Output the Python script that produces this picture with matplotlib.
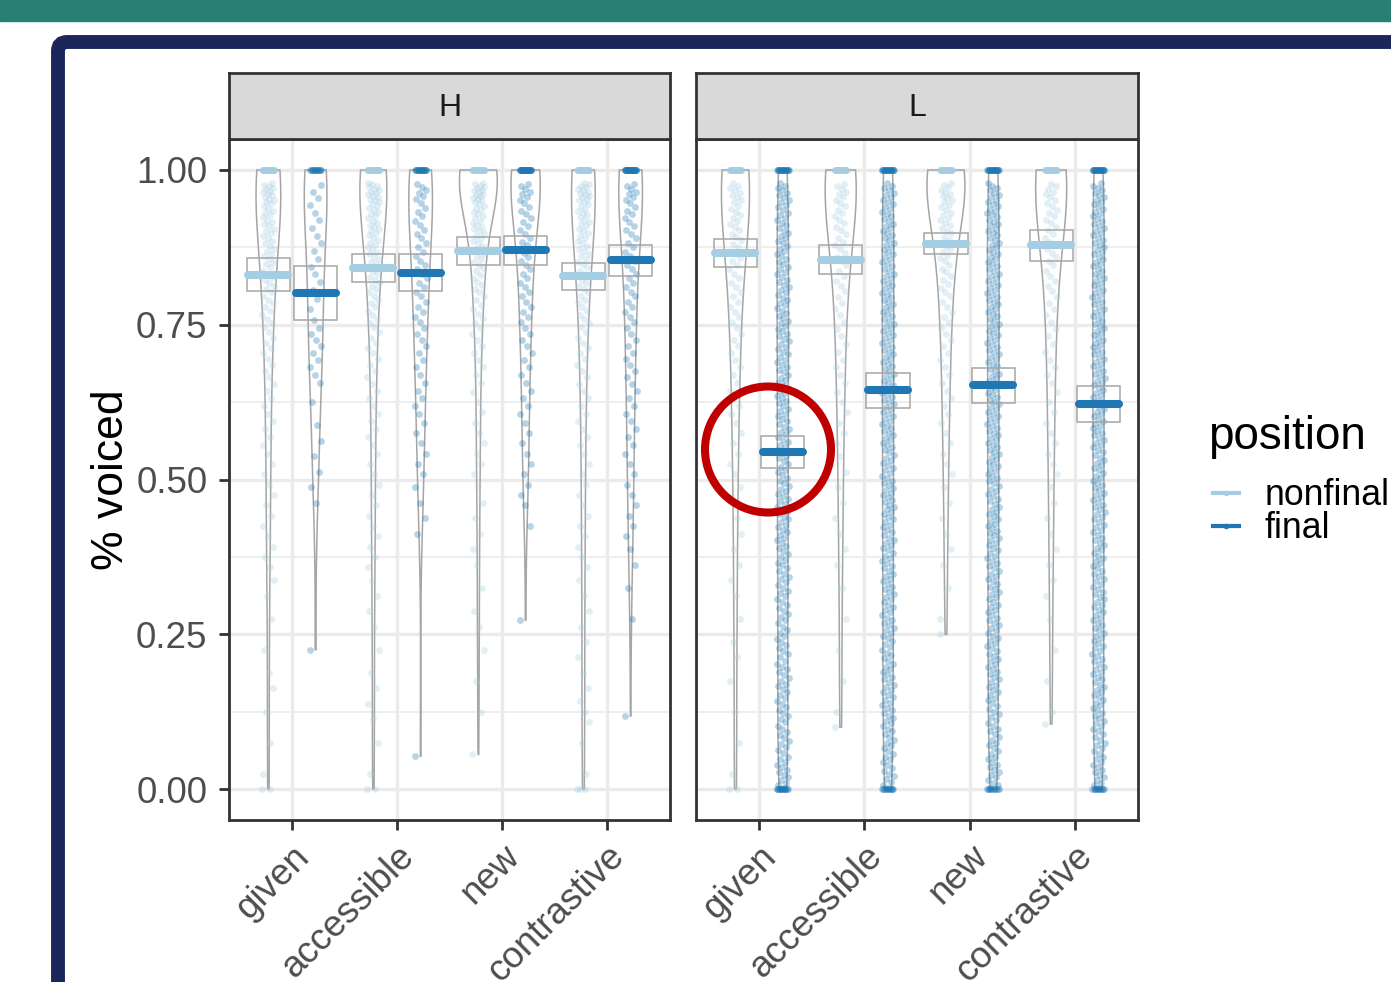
import numpy as np
import matplotlib
matplotlib.use("Agg")
import matplotlib.pyplot as plt
from matplotlib.lines import Line2D
from matplotlib.patches import Circle, FancyBboxPatch, Rectangle, Polygon

plt.rcParams['font.family'] = ['Liberation Sans', 'DejaVu Sans']

categories = ["given", "accessible", "new", "contrastive"]
panels = ["H", "L"]
positions = ["nonfinal", "final"]
colors = {"nonfinal": "#a6cee3", "final": "#1f78b4"}

# value bins for the voiced share, 0.05 wide; the top bin stops short of 1
bin_lo = np.round(np.arange(0, 0.951, 0.05), 3)
bin_hi = np.append(bin_lo[1:], 0.98)

# token counts per bin (low -> high), one row per category
h_nonfinal_counts = [
    [1, 1, 1, 2, 1, 1, 2, 3, 3, 3, 3, 4, 4, 5, 6, 8, 10, 12, 14, 12],
    [1, 1, 2, 2, 1, 2, 2, 3, 3, 3, 3, 4, 4, 5, 6, 8, 10, 13, 15, 13],
    [0, 0, 1, 1, 1, 2, 1, 2, 2, 2, 3, 3, 3, 4, 5, 7, 9, 12, 15, 14],
    [1, 1, 3, 2, 2, 2, 2, 3, 3, 3, 3, 4, 4, 5, 6, 8, 10, 12, 14, 13],
]
h_nonfinal_at_one = [45, 55, 60, 50]
h_nonfinal_at_zero = [1, 1, 0, 2]
h_nonfinal_min = [0.0, 0.0, 0.056, 0.0]

h_final_counts = [
    [0, 0, 0, 0, 0, 0, 0, 0, 0, 2, 2, 2, 1, 4, 5, 3, 4, 4, 4, 3],
    [0, 0, 0, 0, 0, 0, 0, 0, 2, 2, 3, 3, 4, 4, 5, 6, 7, 7, 7, 6],
    [0, 0, 0, 0, 0, 0, 0, 0, 1, 3, 3, 3, 4, 4, 5, 6, 7, 8, 8, 7],
    [0, 0, 0, 0, 0, 1, 1, 2, 3, 3, 3, 4, 4, 5, 5, 6, 7, 7, 8, 7],
]
h_final_at_one = [16, 22, 36, 34]
h_final_at_zero = [0, 0, 0, 0]
h_final_min = [0.225, 0.053, 0.273, 0.118]

l_nonfinal_counts = [
    [1, 1, 1, 1, 2, 1, 2, 2, 2, 2, 3, 3, 4, 4, 5, 6, 7, 9, 10, 8],
    [0, 0, 1, 1, 1, 1, 1, 2, 2, 2, 2, 3, 3, 4, 4, 5, 6, 8, 9, 7],
    [0, 0, 0, 0, 0, 1, 1, 2, 2, 2, 3, 3, 4, 4, 5, 6, 8, 10, 12, 9],
    [0, 0, 1, 1, 1, 1, 2, 2, 2, 2, 3, 3, 3, 4, 4, 5, 6, 8, 9, 7],
]
l_nonfinal_at_one = [42, 38, 46, 42]
l_nonfinal_at_zero = [1, 0, 0, 0]
l_nonfinal_min = [0.0, 0.10, 0.25, 0.105]

l_final_counts = [
    [12, 10, 10, 11, 10, 10, 11, 11, 12, 12, 11, 12, 12, 12, 12, 12, 12, 12, 12, 8],
    [11, 11, 12, 12, 11, 12, 12, 12, 12, 13, 12, 13, 13, 13, 13, 13, 13, 13, 13, 8],
    [12, 11, 11, 12, 12, 12, 12, 12, 13, 12, 13, 13, 13, 13, 13, 13, 13, 13, 14, 8],
    [12, 11, 12, 12, 12, 12, 12, 12, 12, 13, 12, 13, 13, 13, 13, 13, 13, 13, 13, 8],
]
l_final_at_one = [22, 25, 25, 25]
l_final_at_zero = [15, 12, 10, 12]
l_final_min = [0.0, 0.0, 0.0, 0.0]

# mean and standard error per category
h_nonfinal_mean = [0.831, 0.842, 0.869, 0.828]
h_nonfinal_se = [0.027, 0.023, 0.023, 0.0215]
h_final_mean = [0.801, 0.834, 0.870, 0.854]
h_final_se = [0.044, 0.0295, 0.0236, 0.025]
l_nonfinal_mean = [0.866, 0.855, 0.881, 0.878]
l_nonfinal_se = [0.023, 0.023, 0.017, 0.025]
l_final_mean = [0.544, 0.644, 0.652, 0.622]
l_final_se = [0.026, 0.028, 0.028, 0.029]

data = {
    ("H", "nonfinal"): (h_nonfinal_counts, h_nonfinal_at_one, h_nonfinal_at_zero,
                        h_nonfinal_min, h_nonfinal_mean, h_nonfinal_se),
    ("H", "final"): (h_final_counts, h_final_at_one, h_final_at_zero,
                     h_final_min, h_final_mean, h_final_se),
    ("L", "nonfinal"): (l_nonfinal_counts, l_nonfinal_at_one, l_nonfinal_at_zero,
                        l_nonfinal_min, l_nonfinal_mean, l_nonfinal_se),
    ("L", "final"): (l_final_counts, l_final_at_one, l_final_at_zero,
                     l_final_min, l_final_mean, l_final_se),
}


def expand(counts, at_one, at_zero, vmin):
    vals = [vmin] + [0.0] * at_zero + [1.0] * at_one
    for lo, hi, c in zip(bin_lo, bin_hi, counts):
        if c:
            vals += list(lo + (np.arange(c) + 0.5) / c * (hi - lo))
    return np.array(vals)


def nrd0(x):
    sd = x.std(ddof=1)
    q75, q25 = np.percentile(x, [75, 25])
    lo = min(sd, (q75 - q25) / 1.34)
    if lo == 0:
        lo = sd if sd > 0 else 1.0
    return 0.9 * lo * len(x) ** -0.2


def kde(vals, adjust=1.2):
    grid = np.linspace(vals.min(), vals.max(), 400)
    bw = nrd0(vals) * adjust
    z = (grid[:, None] - vals[None, :]) / bw
    dens = np.exp(-0.5 * z ** 2).sum(1) / (len(vals) * bw * np.sqrt(2 * np.pi))
    return grid, dens


W, H = 1391, 982
fig = plt.figure(figsize=(W / 100, H / 100), dpi=100)


def px_axes(left, top, right, bottom):
    return fig.add_axes([left / W, 1 - bottom / H, (right - left) / W, (bottom - top) / H])


# slide decoration
fig.add_artist(Rectangle((0, (H - 21) / 100), W / 100, 0.25, color="#2a7f73",
                         transform=fig.dpi_scale_trans, zorder=0))
fig.add_artist(FancyBboxPatch((0.58, -1.0), 20, (H - 42) / 100 + 1.0,
                              boxstyle="round,pad=0,rounding_size=0.09",
                              fc="none", ec="#1b2759", lw=10,
                              transform=fig.dpi_scale_trans, zorder=0))

grid_col = "#ebebeb"
frame_col = "#333333"
gray = "#a5a5a5"
dodge = 0.225
jit = 0.058
vmax_half = 0.18

panel_px = {"H": (229, 670), "L": (696, 1138)}
axes = {}
for p in panels:
    left, right = panel_px[p]
    ax = px_axes(left, 139, right, 820)
    axes[p] = ax
    ax.set_xlim(0.4, 4.6)
    ax.set_ylim(-0.05, 1.05)
    ax.set_xticks(range(1, 5))
    ax.set_xticklabels(categories, rotation=45, ha="right", va="top",
                       rotation_mode="anchor", fontsize=26.5, color="#4d4d4d")
    ax.set_yticks([0, 0.25, 0.5, 0.75, 1.0])
    ax.set_yticks([0.125, 0.375, 0.625, 0.875], minor=True)
    ax.set_yticklabels(["0.00", "0.25", "0.50", "0.75", "1.00"], fontsize=26.5, color="#4d4d4d")
    ax.set_axisbelow(True)
    ax.grid(True, which="major", color=grid_col, lw=2.4)
    ax.grid(True, which="minor", axis="y", color=grid_col, lw=1.2)
    ax.tick_params(which="major", length=7.5, width=2, color=frame_col, pad=6)
    ax.tick_params(axis="y", which="major", pad=8)
    ax.tick_params(which="minor", length=0)
    for s in ax.spines.values():
        s.set_color(frame_col)
        s.set_linewidth(2)
    if p == "L":
        ax.tick_params(axis="y", which="both", left=False, labelleft=False)

    # violins, scaled by area within the panel
    prof = {}
    for pos in positions:
        counts, at_one, at_zero, vmin, _, _ = data[(p, pos)]
        for i in range(4):
            vals = expand(counts[i], at_one[i], at_zero[i], vmin[i])
            prof[(pos, i)] = (vals, *kde(vals))
    dmax = max(d.max() for _, _, d in prof.values())

    for pos in positions:
        sign = -1 if pos == "nonfinal" else 1
        _, _, _, _, means, ses = data[(p, pos)]
        for i in range(4):
            xc = i + 1 + sign * dodge
            vals, grid, dens = prof[(pos, i)]
            hw = dens / dmax * vmax_half
            xs = np.concatenate([xc - hw, (xc + hw)[::-1]])
            ys = np.concatenate([grid, grid[::-1]])
            ax.add_patch(Polygon(np.column_stack([xs, ys]), closed=True, fc="none",
                                 ec=gray, lw=1.1, zorder=2))
            k = np.arange(len(vals))
            xj = xc + ((k * 0.6180339887) % 1 - 0.5) * 2 * jit
            ax.scatter(xj, vals, s=24, color=colors[pos], alpha=0.32, lw=0, zorder=3)
            m, se = means[i], ses[i]
            ax.add_patch(Rectangle((xc - 0.205, m - se), 0.41, 2 * se, fc="none",
                                   ec=gray, lw=1.1, zorder=4))
            ax.plot([xc - 0.19, xc + 0.19], [m, m], color=colors[pos], lw=5.8,
                    solid_capstyle="round", zorder=5)

    # facet strip
    sax = px_axes(left, 73, right, 139)
    sax.set_facecolor("#d9d9d9")
    sax.set_xticks([])
    sax.set_yticks([])
    for s in sax.spines.values():
        s.set_color(frame_col)
        s.set_linewidth(2)
    sax.text(0.5, 0.47, p, ha="center", va="center", fontsize=23, color="#1a1a1a",
             transform=sax.transAxes)

axes["H"].set_ylabel("% voiced", fontsize=32, color="black")
axes["H"].yaxis.set_label_coords(-0.22, 0.5)

# legend: title as its own text, keys below it
fig.text(1208 / W, 1 - 437 / H, "position", ha="left", va="center", fontsize=33)
handles = [Line2D([0], [0], color=colors[pos], lw=3, marker="o", markersize=4,
                  markerfacecolor=colors[pos], markeredgewidth=0) for pos in positions]
leg = fig.legend(handles, positions, loc="upper left",
                 bbox_to_anchor=(1213 / W, 1 - 478 / H), frameon=False,
                 fontsize=25.7, handlelength=0.72, handletextpad=0.72,
                 labelspacing=-0.05, borderpad=0, borderaxespad=0)

# highlight the low L-final mean for given items
fig.add_artist(Circle((7.68, (H - 449.5) / 100), 0.63, fill=False, ec="#c00000",
                      lw=5.8, transform=fig.dpi_scale_trans, zorder=10))

fig.savefig("out.png", dpi=100)
